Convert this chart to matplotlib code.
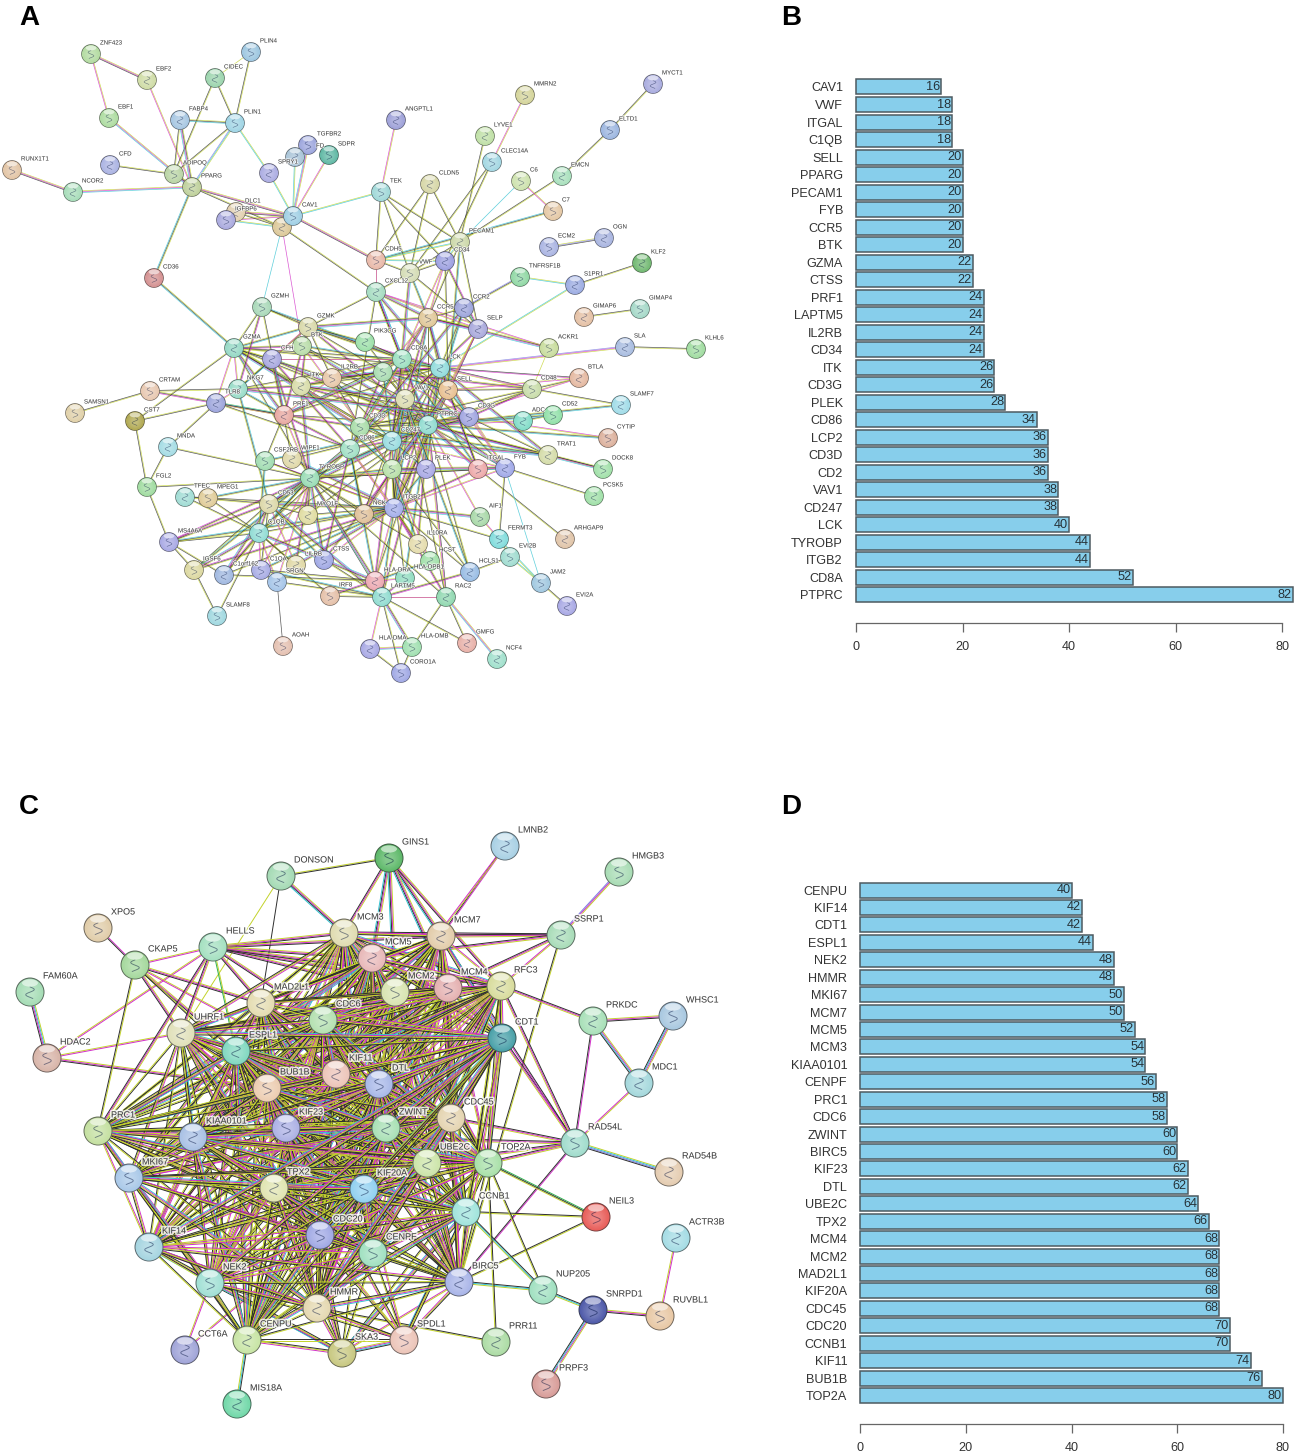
import numpy as np
import matplotlib
matplotlib.use('Agg')
import matplotlib.pyplot as plt
from matplotlib.collections import LineCollection
from matplotlib.colors import to_rgb
from matplotlib.patches import Circle, Ellipse
import matplotlib.patheffects as pe
from itertools import combinations

plt.rcParams['font.family'] = ['Liberation Sans', 'DejaVu Sans']

W, H = 1294, 1452

# bar panels
b_genes = ['CAV1', 'VWF', 'ITGAL', 'C1QB', 'SELL', 'PPARG', 'PECAM1', 'FYB', 'CCR5', 'BTK',
           'GZMA', 'CTSS', 'PRF1', 'LAPTM5', 'IL2RB', 'CD34', 'ITK', 'CD3G', 'PLEK', 'CD86',
           'LCP2', 'CD3D', 'CD2', 'VAV1', 'CD247', 'LCK', 'TYROBP', 'ITGB2', 'CD8A', 'PTPRC']
b_degree = [16, 18, 18, 18, 20, 20, 20, 20, 20, 20,
            22, 22, 24, 24, 24, 24, 26, 26, 28, 34,
            36, 36, 36, 38, 38, 40, 44, 44, 52, 82]
d_genes = ['CENPU', 'KIF14', 'CDT1', 'ESPL1', 'NEK2', 'HMMR', 'MKI67', 'MCM7', 'MCM5', 'MCM3',
           'KIAA0101', 'CENPF', 'PRC1', 'CDC6', 'ZWINT', 'BIRC5', 'KIF23', 'DTL', 'UBE2C', 'TPX2',
           'MCM4', 'MCM2', 'MAD2L1', 'KIF20A', 'CDC45', 'CDC20', 'CCNB1', 'KIF11', 'BUB1B', 'TOP2A']
d_degree = [40, 42, 42, 44, 48, 48, 50, 50, 52, 54,
            54, 56, 58, 58, 60, 60, 62, 62, 64, 66,
            68, 68, 68, 68, 68, 70, 70, 74, 76, 80]
bar_ticks = [0, 20, 40, 60, 80]

# network A, positions read in image pixels
a_names = ['ZNF423', 'EBF2', 'PLIN4', 'CIDEC', 'EBF1', 'FABP4', 'PLIN1', 'MYCT1',
           'MMRN2', 'ANGPTL1', 'ELTD1', 'LYVE1', 'CLEC14A', 'CFD', 'TGFBR2', 'FD',
           'SDPR', 'SPRY1', 'RUNX1T1', 'NCOR2', 'ADIPOQ', 'PPARG', 'C6', 'EMCN',
           'TEK', 'CLDN5', 'C7', 'DLC1', 'IGFBP6', 'TAN1', 'CAV1', 'PECAM1',
           'ECM2', 'OGN', 'CDH5', 'CD34', 'VWF', 'KLF2', 'TNFRSF1B', 'S1PR1',
           'CD36', 'CXCL12', 'GIMAP4', 'GIMAP6', 'GZMH', 'CCR2', 'CCR5', 'SELP',
           'GZMK', 'PIK3CG', 'BTK', 'GZMA', 'ACKR1', 'SLA', 'KLHL6', 'CFH',
           'CD8A', 'LCK', 'CD2', 'BTLA', 'IL2RB', 'ITK', 'CD48', 'NKG7',
           'CRTAM', 'SELL', 'VAV1', 'TLR8', 'SAMSN1', 'SLAMF7', 'CD52', 'ADC',
           'CD3G', 'PRF1', 'CD3D', 'CD247', 'PTPRC', 'CST7', 'CYTIP', 'MNDA',
           'CD86', 'TRAT1', 'CSF2RB', 'WIPF1', 'LCP2', 'PLEK', 'ITGAL', 'FYB',
           'DOCK8', 'TYROBP', 'FGL2', 'TFEC', 'MPEG1', 'PCSK5', 'CD53', 'MYO1F',
           'NCK', 'ITGB2', 'AIF1', 'C1QB', 'FERMT3', 'ARHGAP9', 'MS4A6A', 'IL10RA',
           'EVI2B', 'HCST', 'CTSS', 'LILRB', 'IGSF6', 'C1orf162', 'C1QA', 'HCLS1',
           'JAM2', 'HLA-DRA', 'HLA-DPB1', 'SRGN', 'LAPTM5', 'RAC2', 'IRF8', 'EVI2A',
           'SLAMF8', 'GMFG', 'AOAH', 'HLA-DMA', 'HLA-DMB', 'NCF4', 'CORO1A']
a_x = [91, 147, 251, 215, 109, 180, 235, 653,
       525, 396, 610, 485, 492, 110, 308, 295,
       329, 269, 12, 73, 174, 192, 521, 562,
       381, 430, 553, 236, 226, 282, 293, 460,
       549, 604, 376, 445, 410, 642, 520, 575,
       154, 376, 640, 584, 262, 464, 428, 478,
       308, 365, 302, 234, 549, 625, 696, 272,
       402, 440, 383, 579, 332, 301, 532, 238,
       150, 448, 405, 216, 75, 621, 553, 523,
       469, 284, 360, 392, 428, 135, 608, 168,
       350, 548, 265, 292, 392, 426, 478, 505,
       603, 310, 147, 185, 208, 594, 269, 308,
       364, 394, 480, 259, 499, 565, 169, 418,
       510, 430, 324, 296, 194, 224, 261, 470,
       541, 375, 405, 277, 382, 446, 330, 567,
       217, 467, 283, 370, 412, 497, 401]
a_y = [54, 80, 52, 78, 118, 120, 123, 84,
       95, 120, 130, 136, 162, 165, 145, 157,
       155, 173, 170, 192, 174, 187, 181, 176,
       192, 184, 211, 212, 220, 227, 216, 242,
       247, 238, 260, 261, 273, 263, 277, 285,
       278, 292, 309, 317, 307, 308, 318, 329,
       327, 342, 346, 348, 348, 347, 349, 359,
       359, 368, 372, 378, 378, 386, 389, 389,
       391, 390, 399, 403, 413, 405, 415, 421,
       417, 415, 427, 441, 425, 421, 438, 447,
       449, 455, 461, 459, 469, 469, 469, 468,
       469, 478, 487, 497, 498, 496, 504, 515,
       514, 508, 517, 533, 539, 539, 542, 544,
       557, 561, 560, 565, 570, 575, 570, 572,
       583, 581, 578, 582, 597, 597, 596, 606,
       616, 643, 646, 649, 647, 659, 673]
a_colors = ['#b2dba0', '#cfdca5', '#9cc6e0', '#9bd4ad', '#addca0', '#a6c6e2', '#9fd4e4', '#a9acdf',
            '#d4d49a', '#9da0d8', '#9cb6e0', '#bfe0a6', '#a2d6e2', '#aab2e2', '#9ca5dd', '#a9c4d8',
            '#5fb8a4', '#abace2', '#e2c4a4', '#a6dcb8', '#b9d4a4', '#bed09a', '#cde2ad', '#a8e0bc',
            '#9fd8d8', '#d6d6a6', '#e4c8a4', '#e2d0b0', '#a9a9de', '#dcc898', '#9fcfe4', '#ccd8a8',
            '#aab4e2', '#a8b4e0', '#e8b8a8', '#9c9fe0', '#d4dcb4', '#70b870', '#90d8a4', '#9cace2',
            '#d49090', '#a4dcc0', '#a4d8c8', '#e4c0a4', '#a8d8b8', '#9ca4dc', '#e0c898', '#a8a8dc',
            '#d8d8a8', '#9ce0a8', '#b8dca8', '#94d8c4', '#c8dc9c', '#a8bce0', '#a0dca0', '#a8a8e0',
            '#9ce0c0', '#90dcdc', '#a8dcb0', '#e4b8a0', '#e8c8a8', '#d8dca8', '#c8dca8', '#98dcc8',
            '#e8c8b0', '#e8c090', '#dcdcb0', '#9ca4dc', '#e0d0a8', '#a0dce8', '#90e0a8', '#80dcc8',
            '#a0a4e0', '#e8a8a0', '#a8dca8', '#98dce0', '#90dcd0', '#b0a850', '#dcb09c', '#a4dce4',
            '#a0e0c4', '#d4dca8', '#a0dcb0', '#e0d8a8', '#b8e0a8', '#a8a8e4', '#eca8a8', '#a0a8e8',
            '#a0e0a8', '#98dcb4', '#a0dca0', '#a0dcd4', '#e0cc98', '#a0e0a8', '#dcd8a8', '#e0dca0',
            '#e0c098', '#a4aeea', '#a8d8a8', '#90dcd4', '#80dcdc', '#e0c4a8', '#a8a8e4', '#e4dcac',
            '#a0dcd0', '#a0e0a8', '#a0a8e4', '#e0d8a4', '#dcd8a0', '#a0b8e0', '#a8ace4', '#98bce4',
            '#a0c8e0', '#eca8b0', '#90dcc0', '#a4c4e8', '#90dcd0', '#90d8b0', '#e4c0a8', '#a8a8e4',
            '#a0d8e0', '#e8b0a8', '#e4c0b0', '#a8a8e4', '#a0e0b0', '#a0e0cc', '#a0a8e4']
a_hidden = ['TAN1', 'CD2']

a_pairs = [('ZNF423', 'EBF2', 'ymk'), ('ZNF423', 'EBF1', 'ym'), ('EBF2', 'PPARG', 'ym'), ('EBF1', 'PPARG', 'ymc'),
           ('PLIN4', 'CIDEC', 'y'), ('PLIN4', 'PLIN1', 'yk'), ('CIDEC', 'PLIN1', 'yk'), ('CIDEC', 'ADIPOQ', 'yk'),
           ('FABP4', 'PLIN1', 'ykc'), ('FABP4', 'ADIPOQ', 'yk'), ('FABP4', 'PPARG', 'ykmc'), ('PLIN1', 'ADIPOQ', 'yk'),
           ('PLIN1', 'PPARG', 'ycb'), ('PLIN1', 'SPRY1', 'yc'), ('CFD', 'ADIPOQ', 'yk'), ('ADIPOQ', 'PPARG', 'ykmc'),
           ('RUNX1T1', 'NCOR2', 'ymk'), ('NCOR2', 'PPARG', 'ymc'), ('PPARG', 'CAV1', 'ymk'), ('PPARG', 'TAN1', 'yk'),
           ('PPARG', 'CD36', 'ykc'), ('CD36', 'GZMA', 'ykc'), ('TGFBR2', 'CAV1', 'ymc'), ('FD', 'CAV1', 'yc'),
           ('SDPR', 'CAV1', 'ym'), ('SPRY1', 'CAV1', 'yc'), ('CAV1', 'TEK', 'yc'), ('IGFBP6', 'TAN1', 'yc'),
           ('IGFBP6', 'CAV1', 'ym'), ('DLC1', 'CAV1', 'ymk'), ('DLC1', 'TAN1', 'yk'), ('CAV1', 'CDH5', 'ymk'),
           ('CAV1', 'TAN1', 'yk'), ('TAN1', 'CXCL12', 'yk'), ('TAN1', 'GZMH', 'c'), ('TAN1', 'BTK', 'm'),
           ('ANGPTL1', 'TEK', 'ym'), ('MMRN2', 'CLEC14A', 'ym'), ('LYVE1', 'PECAM1', 'yk'), ('CLEC14A', 'CD34', 'yk'),
           ('CLEC14A', 'VWF', 'yk'), ('MYCT1', 'ELTD1', 'yk'), ('ELTD1', 'EMCN', 'yk'), ('EMCN', 'PECAM1', 'yk'),
           ('C6', 'C7', 'ym'), ('C6', 'PECAM1', 'c'), ('C7', 'CDH5', 'ykc'), ('TEK', 'CDH5', 'yk'),
           ('TEK', 'PECAM1', 'yk'), ('TEK', 'VWF', 'yk'), ('TEK', 'CD34', 'yk'), ('CLDN5', 'CDH5', 'yk'),
           ('CLDN5', 'PECAM1', 'yk'), ('CLDN5', 'VWF', 'yk'), ('PECAM1', 'CDH5', 'yc'), ('PECAM1', 'CD34', 'yc'),
           ('PECAM1', 'VWF', 'yk'), ('CDH5', 'VWF', 'yk'), ('CDH5', 'CD34', 'yc'), ('CDH5', 'CXCL12', 'ym'),
           ('VWF', 'CXCL12', 'yk'), ('VWF', 'CD34', 'yk'), ('ECM2', 'OGN', 'ybk'), ('KLF2', 'S1PR1', 'yk'),
           ('TNFRSF1B', 'S1PR1', 'yc'), ('TNFRSF1B', 'CCR2', 'ykb'), ('S1PR1', 'LCK', 'yc'), ('GIMAP4', 'GIMAP6', 'yk'),
           ('SLA', 'LCK', 'ymb'), ('KLHL6', 'SLA', 'yk'), ('ACKR1', 'CXCL12', 'ym'), ('ACKR1', 'CD48', 'y'),
           ('CD48', 'BTLA', 'yk'), ('BTLA', 'LCK', 'mk'), ('SLAMF7', 'CD48', 'yk'), ('CD48', 'LCK', 'ymk'),
           ('CD52', 'ADC', 'yk'), ('CYTIP', 'CD3G', 'ym'), ('DOCK8', 'TRAT1', 'yk'), ('PCSK5', 'FYB', 'yk'),
           ('ARHGAP9', 'ITGAL', 'yk'), ('CRTAM', 'SAMSN1', 'yk'), ('CRTAM', 'PRF1', 'ykm'), ('CST7', 'GZMA', 'yk'),
           ('CST7', 'TLR8', 'yk'), ('CST7', 'FGL2', 'yk'), ('MNDA', 'TLR8', 'yk'), ('MNDA', 'FGL2', 'yk'),
           ('MNDA', 'TYROBP', 'yk'), ('FGL2', 'MS4A6A', 'yk'), ('FGL2', 'ITGAL', 'yk'), ('MS4A6A', 'IGSF6', 'yk'),
           ('MS4A6A', 'C1QB', 'yk'), ('MS4A6A', 'C1orf162', 'yk'), ('SLAMF8', 'IGSF6', 'yk'), ('SLAMF8', 'C1QB', 'yk'),
           ('AOAH', 'SRGN', 'k'), ('IRF8', 'LAPTM5', 'yk'), ('IRF8', 'C1QB', 'yk'), ('EVI2A', 'JAM2', 'yk'),
           ('JAM2', 'EVI2B', 'yc'), ('JAM2', 'FERMT3', 'yc'), ('JAM2', 'FYB', 'c'), ('EVI2B', 'FERMT3', 'yk'),
           ('EVI2B', 'HCLS1', 'yk'), ('FERMT3', 'FYB', 'yk'), ('FERMT3', 'AIF1', 'ym'), ('HLA-DMA', 'HLA-DMB', 'ymc'),
           ('HLA-DMA', 'CORO1A', 'yk'), ('HLA-DMB', 'CORO1A', 'yk'), ('HLA-DMB', 'RAC2', 'yk'), ('GMFG', 'LAPTM5', 'yk'),
           ('RAC2', 'NCF4', 'ymc'), ('RAC2', 'GMFG', 'yk'), ('RAC2', 'PTPRC', 'ymk'), ('LAPTM5', 'CORO1A', 'yk')]
a_links = {
    'PTPRC': ['CD8A', 'LCK', 'CD2', 'VAV1', 'SELL', 'CD3G', 'CD3D', 'CD247', 'CD86', 'LCP2', 'PLEK', 'ITGAL',
              'FYB', 'TRAT1', 'CD48', 'CYTIP', 'ITGB2', 'TYROBP', 'IL2RB', 'ITK', 'PRF1', 'CD52', 'ADC', 'CD53',
              'HCLS1', 'LAPTM5', 'WIPF1', 'CSF2RB', 'NCK', 'BTK', 'GZMA', 'GZMK', 'CCR5', 'CCR2', 'SELP', 'CXCL12',
              'PIK3CG', 'IL10RA', 'HLA-DRA', 'HLA-DPB1', 'AIF1', 'CFH', 'C1QB', 'CTSS', 'MYO1F', 'SLAMF7', 'BTLA', 'DOCK8'],
    'LCK': ['CD8A', 'CD2', 'VAV1', 'CD3G', 'CD3D', 'CD247', 'LCP2', 'IL2RB', 'ITK', 'ITGAL', 'FYB', 'TRAT1',
            'GZMA', 'GZMK', 'PRF1', 'BTK', 'CD86', 'CCR5', 'CCR2', 'ITGB2', 'TYROBP', 'PLEK', 'SELL', 'CXCL12'],
    'CD8A': ['CD2', 'CD3G', 'CD3D', 'CD247', 'VAV1', 'IL2RB', 'GZMA', 'GZMK', 'PRF1', 'CD86', 'ITK', 'CCR5',
             'SELL', 'ITGB2', 'NKG7', 'GZMH', 'CFH', 'CXCL12', 'PIK3CG', 'HLA-DRA', 'FYB', 'ITGAL', 'CD34', 'VWF'],
    'ITGB2': ['TYROBP', 'ITGAL', 'LCP2', 'PLEK', 'CD86', 'CD53', 'MYO1F', 'NCK', 'C1QB', 'C1QA', 'CTSS', 'AIF1',
              'FERMT3', 'RAC2', 'HCLS1', 'LAPTM5', 'FYB', 'VAV1', 'CD247', 'SELL', 'SELP', 'CCR5', 'HLA-DRA',
              'LILRB', 'C1orf162', 'IGSF6', 'TFEC', 'MS4A6A', 'CSF2RB', 'WIPF1', 'HCST', 'IL10RA'],
    'TYROBP': ['CD86', 'C1QB', 'C1QA', 'CTSS', 'CSF2RB', 'MYO1F', 'NCK', 'LCP2', 'PLEK', 'CD53', 'LAPTM5', 'LILRB',
               'C1orf162', 'IGSF6', 'SRGN', 'HLA-DRA', 'RAC2', 'MS4A6A', 'IL10RA', 'CD247', 'PRF1', 'ITK', 'GZMA', 'CFH', 'FYB', 'MPEG1'],
    'LAPTM5': ['HLA-DMA', 'HLA-DMB', 'HLA-DRA', 'HLA-DPB1', 'CTSS', 'C1QA', 'RAC2', 'CD53', 'SRGN', 'HCLS1'],
    'GZMA': ['GZMH', 'GZMK', 'NKG7', 'PRF1', 'CFH', 'BTK', 'IL2RB', 'ITK', 'TLR8', 'CD3D', 'CD247'],
    'CD247': ['CD3G', 'CD3D', 'CD2', 'LCP2', 'VAV1', 'ITK', 'CD86', 'IL2RB', 'PLEK', 'FYB', 'TRAT1'],
    'CD3D': ['CD3G', 'CD2', 'LCP2', 'VAV1', 'ITK', 'CD86', 'IL2RB', 'PRF1', 'CD48', 'TRAT1'],
    'CD3G': ['CD2', 'VAV1', 'ITK', 'CD48', 'TRAT1', 'SELL', 'FYB'],
    'CD2': ['IL2RB', 'ITK', 'CD48', 'VAV1', 'SELL', 'CCR5', 'PRF1', 'GZMK'],
    'PRF1': ['GZMK', 'GZMH', 'NKG7', 'IL2RB', 'CFH', 'WIPF1', 'CD86', 'CSF2RB', 'TLR8'],
    'CD86': ['CCR5', 'CCR2', 'CXCL12', 'CTSS', 'C1QB', 'HLA-DRA', 'IL10RA', 'CD53', 'NCK', 'CFH', 'TLR8'],
    'VAV1': ['LCP2', 'PLEK', 'ITK', 'BTK', 'SELP', 'RAC2', 'HCLS1', 'ITGAL', 'FYB', 'NCK', 'CCR5'],
    'LCP2': ['PLEK', 'ITK', 'BTK', 'FYB', 'HCLS1', 'NCK', 'HLA-DPB1', 'IL10RA', 'HCST', 'SELL'],
    'CD53': ['MYO1F', 'C1QB', 'C1QA', 'CTSS', 'LILRB', 'C1orf162', 'IGSF6', 'MS4A6A', 'TFEC', 'NKG7'],
    'C1QB': ['C1QA', 'CTSS', 'LILRB', 'C1orf162', 'MPEG1', 'CSF2RB', 'SRGN', 'IGSF6', 'TFEC'],
    'NKG7': ['GZMH', 'GZMK', 'CFH', 'TLR8', 'CD3G', 'CRTAM', 'ITK'],
    'GZMK': ['GZMH', 'BTK', 'CFH', 'CCR5', 'CXCL12', 'ITK', 'IL2RB', 'PIK3CG'],
    'HLA-DRA': ['HLA-DPB1', 'CTSS', 'C1QA', 'IRF8', 'C1orf162', 'HCST'],
    'SELL': ['SELP', 'CCR5', 'CD48', 'ITGAL', 'CD34', 'PECAM1', 'BTLA'],
    'CCR5': ['CXCL12', 'CCR2', 'SELP', 'PECAM1', 'VWF', 'CD34', 'ACKR1'],
    'SELP': ['VWF', 'CD34', 'PECAM1', 'CCR2', 'CXCL12'],
}

# network C
c_names = ['GINS1', 'LMNB2', 'HMGB3', 'DONSON', 'XPO5', 'SSRP1', 'MCM3', 'MCM7',
           'HELLS', 'MCM5', 'CKAP5', 'RFC3', 'MCM4', 'FAM60A', 'MCM2', 'MAD2L1',
           'WHSC1', 'PRKDC', 'CDC6', 'UHRF1', 'CDT1', 'ESPL1', 'HDAC2', 'KIF11',
           'DTL', 'MDC1', 'BUB1B', 'CDC45', 'KIF23', 'ZWINT', 'PRC1', 'KIAA0101',
           'RAD54L', 'UBE2C', 'TOP2A', 'RAD54B', 'MKI67', 'TPX2', 'KIF20A', 'CCNB1',
           'NEIL3', 'ACTR3B', 'CDC20', 'KIF14', 'CENPF', 'BIRC5', 'NEK2', 'NUP205',
           'SNRPD1', 'HMMR', 'RUVBL1', 'CENPU', 'SPDL1', 'PRR11', 'SKA3', 'CCT6A',
           'PRPF3', 'MIS18A']
c_x = [389, 505, 619, 281, 98, 561, 344, 441,
       213, 372, 135, 501, 448, 30, 395, 261,
       673, 593, 323, 181, 502, 236, 47, 336,
       379, 639, 267, 451, 286, 386, 98, 193,
       575, 427, 488, 669, 129, 274, 364, 466,
       596, 676, 320, 149, 373, 459, 210, 543,
       593, 317, 660, 247, 404, 496, 342, 185,
       546, 237]
c_y = [858, 846, 872, 876, 928, 935, 933, 936,
       947, 958, 965, 986, 988, 992, 992, 1003,
       1016, 1021, 1020, 1033, 1038, 1051, 1058, 1074,
       1084, 1083, 1088, 1118, 1128, 1128, 1131, 1137,
       1143, 1163, 1163, 1172, 1178, 1188, 1189, 1212,
       1217, 1238, 1235, 1247, 1253, 1282, 1283, 1290,
       1310, 1308, 1316, 1340, 1340, 1342, 1353, 1350,
       1384, 1404]
c_colors = ['#5cb868', '#a8d0e4', '#a8dcb4', '#a4dab4', '#e0cca8', '#a8dcb8', '#e0dcb0', '#e2ccaa',
            '#a4e0c0', '#e8b8b8', '#a4d89c', '#d8dc9c', '#e4b0b0', '#a4dcb4', '#d8e4b0', '#e4dcb0',
            '#a8c8e0', '#a8e0b8', '#b4e0b0', '#e0e0b8', '#48a0a8', '#80d8c0', '#d8b4a8', '#ecc4b8',
            '#a8b8e8', '#a4d8dc', '#ecccb0', '#e4d4b0', '#acb0e4', '#a8e0b4', '#c4e0a0', '#a8c0e4',
            '#a0dccc', '#cce4a8', '#a8e0a8', '#e4ccb0', '#a8c8e8', '#e0e4b0', '#90d0f0', '#a0e4dc',
            '#e85c58', '#a4dce4', '#a0a8e4', '#a4d4e0', '#a0e0c0', '#a8b4e8', '#a0e0d4', '#a0e0c0',
            '#4c58a8', '#e4d8b0', '#e8c8a4', '#c8e4a4', '#ecc4b8', '#acdca4', '#c8c880', '#a0a4d8',
            '#d89c98', '#70d8a8']
c_hidden = []

c_core = ['MCM3', 'MCM7', 'MCM5', 'MCM2', 'MCM4', 'RFC3', 'MAD2L1', 'CDC6', 'UHRF1', 'ESPL1', 'KIF11', 'DTL',
          'BUB1B', 'CDC45', 'KIF23', 'ZWINT', 'PRC1', 'KIAA0101', 'UBE2C', 'TOP2A', 'MKI67', 'TPX2', 'KIF20A',
          'CCNB1', 'CDC20', 'KIF14', 'CENPF', 'BIRC5', 'NEK2', 'HMMR', 'CENPU', 'CDT1']
c_pairs = [('DONSON', 'GINS1', 'yk'), ('DONSON', 'MCM3', 'ymkc'), ('DONSON', 'MAD2L1', 'k'), ('DONSON', 'UHRF1', 'y'),
           ('GINS1', 'MCM3', 'ymk'), ('GINS1', 'MCM7', 'ymkc'), ('GINS1', 'MCM5', 'ymkc'), ('GINS1', 'MCM2', 'ymkc'),
           ('GINS1', 'MCM4', 'ymkc'), ('GINS1', 'RFC3', 'ymk'), ('LMNB2', 'MCM7', 'mk'), ('LMNB2', 'MCM2', 'ym'),
           ('HMGB3', 'SSRP1', 'ymb'), ('SSRP1', 'MCM3', 'ymk'), ('SSRP1', 'MCM7', 'ymk'), ('SSRP1', 'MCM5', 'ymk'),
           ('SSRP1', 'RFC3', 'ym'), ('SSRP1', 'MCM4', 'ymk'), ('SSRP1', 'BIRC5', 'yk'), ('XPO5', 'CKAP5', 'mk'),
           ('FAM60A', 'HDAC2', 'ycmk'), ('HDAC2', 'HELLS', 'ym'), ('HDAC2', 'BUB1B', 'ymk'), ('HDAC2', 'UHRF1', 'ym'),
           ('CKAP5', 'HELLS', 'ym'), ('CKAP5', 'UHRF1', 'ymk'), ('CKAP5', 'MAD2L1', 'ymk'), ('CKAP5', 'PRC1', 'yk'),
           ('CKAP5', 'ESPL1', 'ymk'), ('CKAP5', 'BUB1B', 'yk'), ('CKAP5', 'KIF11', 'ym'), ('HELLS', 'MCM3', 'ymk'),
           ('HELLS', 'MCM7', 'ymk'), ('HELLS', 'MCM5', 'ymk'), ('HELLS', 'MCM2', 'ymk'), ('HELLS', 'MCM4', 'ymk'),
           ('HELLS', 'UHRF1', 'ymk'), ('HELLS', 'MAD2L1', 'ymk'), ('HELLS', 'ESPL1', 'yg'), ('HELLS', 'CDC6', 'ymk'),
           ('HELLS', 'RFC3', 'ymk'), ('HELLS', 'PRC1', 'ymk'), ('PRKDC', 'RFC3', 'ymk'), ('PRKDC', 'WHSC1', 'ymk'),
           ('PRKDC', 'MDC1', 'ymck'), ('WHSC1', 'MDC1', 'ymck'), ('PRKDC', 'RAD54L', 'mk'), ('MDC1', 'RAD54L', 'ym'),
           ('RAD54L', 'RAD54B', 'ycbk'), ('RAD54L', 'TOP2A', 'ymk'), ('RAD54L', 'CDT1', 'ymk'), ('RAD54L', 'CDC45', 'ymk'),
           ('RAD54L', 'BIRC5', 'mk'), ('RAD54L', 'UBE2C', 'ymk'), ('RAD54L', 'PRC1', 'ymk'), ('RAD54L', 'MCM7', 'mk'),
           ('RAD54L', 'RFC3', 'ymk'), ('NEIL3', 'TOP2A', 'ykg'), ('NEIL3', 'CCNB1', 'yk'), ('NEIL3', 'BIRC5', 'yk'),
           ('NUP205', 'BIRC5', 'yck'), ('NUP205', 'TOP2A', 'yk'), ('NUP205', 'CCNB1', 'yck'), ('SNRPD1', 'NUP205', 'yck'),
           ('SNRPD1', 'RUVBL1', 'ymk'), ('SNRPD1', 'PRPF3', 'ymck'), ('RUVBL1', 'ACTR3B', 'ym'), ('PRR11', 'TOP2A', 'yk'),
           ('PRR11', 'HMMR', 'yk'), ('MIS18A', 'CENPU', 'yck'), ('CCT6A', 'NEK2', 'ym'), ('CCT6A', 'CDC20', 'ym'),
           ('SKA3', 'SPDL1', 'ymck'), ('SPDL1', 'HMMR', 'yk')]
c_links = {
    'SKA3': ['HMMR', 'CENPF', 'CDC20', 'NEK2', 'KIF14', 'TPX2', 'BIRC5', 'CENPU', 'KIF20A', 'BUB1B', 'TOP2A', 'CCNB1'],
    'SPDL1': ['CENPF', 'CDC20', 'BIRC5', 'NEK2', 'KIF14', 'TPX2', 'CCNB1', 'CENPU', 'KIF20A', 'BUB1B', 'TOP2A'],
}
edge_styles = ['myk', 'ky', 'myk', 'ky', 'cmyk', 'yk', 'my']
a_styles = ['yk', 'ykm', 'yk', 'ykc', 'ym', 'ykmc']

edge_colors = {'y': '#c3d32a', 'k': '#2e2e2e', 'm': '#d22fc8', 'c': '#35c3d2', 'b': '#7c7ce0', 'g': '#32b050'}


def mix(rgb, other, t):
    return tuple((1 - t) * np.array(rgb) + t * np.array(other))


def draw_edges(ax, pos, pairs, spacing, lw, alpha):
    segs, cols = [], []
    for p, q, kinds in pairs:
        a, b = np.array(pos[p], float), np.array(pos[q], float)
        d = b - a
        n = np.array([-d[1], d[0]]) / np.hypot(*d)
        for k, ch in enumerate(kinds):
            off = (k - (len(kinds) - 1) / 2) * spacing
            segs.append([a + n * off, b + n * off])
            cols.append(edge_colors[ch])
    ax.add_collection(LineCollection(segs, colors=cols, linewidths=lw, alpha=alpha, zorder=2))


def draw_ball(ax, x, y, r, color, flip):
    rgb = to_rgb(color)
    ax.add_patch(Circle((x, y), r, fc=mix(rgb, (0.2, 0.2, 0.2), 0.65), ec='none', zorder=3))
    for f in np.linspace(0.93, 0.3, 7):
        ax.add_patch(Circle((x, y + (1 - f) * r * 0.12), r * f, ec='none', zorder=3,
                            fc=mix(rgb, (1, 1, 1), (1 - f) * 0.35)))
    # the small protein scribble inside each STRING bubble
    t = np.linspace(0, 1, 14)
    ax.plot(x + flip * r * 0.3 * np.sin(t * 7), y + r * (-0.35 + 0.8 * t), color=mix(rgb, (0.15, 0.2, 0.35), 0.55),
            lw=r * 0.045, zorder=3, solid_capstyle='round')
    ax.add_patch(Ellipse((x, y - 0.62 * r), 1.1 * r, 0.5 * r, fc='white', ec='none', alpha=0.55, zorder=3))


def draw_network(ax, names, xs, ys, colors, hidden, pairs, r, spacing, lw, alpha, fs, dx, dy, halo):
    pos = {n: (x, y) for n, x, y in zip(names, xs, ys, strict=True)}
    draw_edges(ax, pos, pairs, spacing, lw, alpha)
    for k, (x, y, c) in enumerate(zip(xs, ys, colors, strict=True)):
        draw_ball(ax, x, y, r, c, 1 if k % 2 else -1)
    for n, x, y in zip(names, xs, ys):
        if n in hidden:
            continue
        shift = dx + 12 if n == 'FD' else dx
        ax.text(x + shift, y + dy, n, fontsize=fs, color='#3c3c3c', ha='left', va='center', zorder=4,
                path_effects=[pe.withStroke(linewidth=halo, foreground='white', alpha=0.8)])


def collect(pairs, links, styles):
    out = list(pairs)
    seen = {frozenset(p[:2]) for p in pairs}
    i = 0
    for hub, others in links.items():
        for other in others:
            key = frozenset((hub, other))
            if key in seen:
                continue
            seen.add(key)
            out.append((hub, other, styles[i % len(styles)]))
            i += 1
    return out, seen


def bar_panel(fig, genes, vals, x0, per_unit, y_first, y_last, y_axis, top):
    # axes box in pixels, x follows per_unit, y follows the row spacing
    n = len(genes)
    step = (y_last - y_first) / (n - 1)
    right = x0 + 82 * per_unit
    ax = fig.add_axes([x0 / W, 1 - y_axis / H, (right - x0) / W, (y_axis - top) / H], facecolor='none')
    ypos = np.arange(n)
    ax.barh(ypos, vals, height=15 / step, color='#87ceeb', edgecolor='#4d5a60', linewidth=1.1, clip_on=False)
    for y, v in zip(ypos, vals):
        ax.text(v - 0.2, y, str(v), ha='right', va='center', fontsize=9.2, color='#263238')
    ax.set_xlim(0, 82)
    ax.set_ylim((y_axis - y_first) / step, (top - y_first) / step)
    ax.set_yticks(ypos, genes)
    ax.set_xticks(bar_ticks)
    ax.tick_params(axis='y', length=0, pad=9.4, labelsize=9.1, labelcolor='#333333')
    ax.tick_params(axis='x', length=6.4, width=0.9, pad=6.5, labelsize=9.1, labelcolor='#333333', color='#666666')
    for s in ['top', 'left', 'right']:
        ax.spines[s].set_visible(False)
    ax.spines['bottom'].set_bounds(0, 80)
    ax.spines['bottom'].set_color('#666666')
    ax.spines['bottom'].set_linewidth(0.9)
    return ax


fig = plt.figure(figsize=(W / 100, H / 100), dpi=100)
canvas = fig.add_axes([0, 0, 1, 1])
canvas.set_xlim(0, W)
canvas.set_ylim(H, 0)
canvas.axis('off')

a_edges, _ = collect(a_pairs, a_links, a_styles)
draw_network(canvas, a_names, a_x, a_y, a_colors, a_hidden, a_edges, 9.8, 0.85, 0.5, 0.8, 4.4, 9, -11, 1.2)

c_edges, c_seen = collect(c_pairs, c_links, edge_styles)
i = 0
for p, q in combinations(c_core, 2):
    if frozenset((p, q)) not in c_seen:
        c_edges.append((p, q, edge_styles[i % len(edge_styles)]))
        i += 1
draw_network(canvas, c_names, c_x, c_y, c_colors, c_hidden, c_edges, 14.5, 1.1, 0.7, 1, 6.5, 13, -16, 2.4)

for letter, x, y in [('A', 19, 25), ('B', 781, 25), ('C', 19, 814), ('D', 781, 814)]:
    canvas.text(x, y, letter, fontsize=20, fontweight='bold', color='black', ha='left', va='baseline')

bar_panel(fig, b_genes, b_degree, 856, 5.325, 87, 595, 623, 70)
bar_panel(fig, d_genes, d_degree, 860.3, 5.28, 890, 1395.6, 1424, 873)

fig.savefig('out.png', dpi=100)
